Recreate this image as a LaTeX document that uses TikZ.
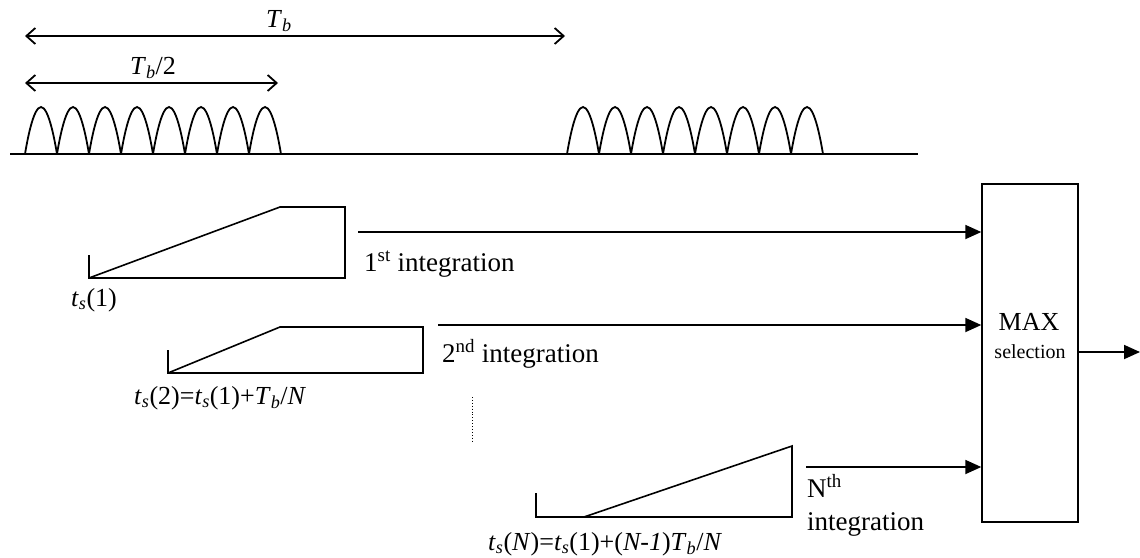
\documentclass[tikz,border=0pt]{standalone}
\usepackage{fontspec}
\setmainfont{Liberation Serif}
\usetikzlibrary{arrows.meta}
\newcommand{\tsub}[1]{\textit{t}\textsubscript{\textit{s}}(#1)}
\newcommand{\Tb}{\textit{T}\textsubscript{\textit{b}}}
\begin{document}
\begin{tikzpicture}[x=1pt,y=-1pt,
  thick line/.style={line width=1.8pt},
  dimarrow/.style={line width=1.8pt,{Straight Barb[length=9pt,width=16pt,line width=1.8pt]}-{Straight Barb[length=9pt,width=16pt,line width=1.8pt]}},
  sigarrow/.style={line width=1.8pt,-{Triangle[length=16pt,width=14pt]}},
  lbl/.style={font=\fontsize{26}{30}\selectfont,inner sep=0pt},
  intl/.style={font=\fontsize{27}{31}\selectfont,inner sep=0pt},
  ramp/.style={line width=1.6pt,line join=miter}]
\useasboundingbox (0,0) rectangle (1140,557);
% dimension arrows
\coordinate (tbL) at (25,36);
\coordinate (tbR) at (565,36);
\draw[dimarrow] (tbL) -- (tbR);
\node[lbl,anchor=base] (tb) at (279,27) {\Tb};
\coordinate (th L) at (25,83);
\coordinate (th R) at (278,83);
\draw[dimarrow] (th L) -- (th R);
\node[lbl,anchor=base] (th) at (153,74) {\Tb/2};
% baseline and humps
\coordinate (b0) at (10,154);
\coordinate (b1) at (918,154);
\draw[thick line] (b0) -- (b1);
\foreach \s in {25,567}{
  \foreach \i in {0,...,7}{
    \draw[thick line] ({\s+32*\i},154) parabola bend ({\s+16+32*\i},107) ({\s+32+32*\i},154);
  }
}
% ramp 1
\draw[ramp] (89,255) -- (89,278) -- (345,278) -- (345,207) -- (280,207) -- (89,278);
\node[lbl,anchor=base west] (r1) at (71,306) {\tsub{1}};
% ramp 2
\draw[ramp] (168,350) -- (168,373) -- (423,373) -- (423,327) -- (280,327) -- (168,373);
\node[lbl,anchor=base west] (r2) at (134,404) {\tsub{2}=\tsub{1}+\Tb/\textit{N}};
% dotted
\draw[line width=0.9pt,dotted] (472,397) -- (472,443);
% ramp N
\draw[ramp] (536,493) -- (536,517) -- (792,517) -- (792,446) -- (584,517);
\node[lbl,anchor=base west] (rN) at (488,550) {\textit{t}\textsubscript{\textit{s}}(\textit{N})=\tsub{1}+(\textit{N-1})\Tb/\textit{N}};
% MAX box
\node[draw,line width=1.4pt,minimum width=96pt,minimum height=338pt,inner sep=0pt] (max) at (1030,353) {};
\node[font=\fontsize{26}{28}\selectfont,inner sep=0pt] (maxt) at (1029,322) {MAX};
\node[font=\fontsize{20}{22}\selectfont,inner sep=0pt] (selt) at (1030,352) {selection};
% signal arrows
\coordinate (a1) at (358,232);
\coordinate (a2) at (438,325);
\coordinate (aN) at (806,467);
\draw[sigarrow] (a1) -- (a1 -| max.west);
\draw[sigarrow] (a2) -- (a2 -| max.west);
\draw[sigarrow] (aN) -- (aN -| max.west);
\coordinate (out) at (1140,352);
\draw[sigarrow] (max.east |- out) -- (out);
% integration labels
\node[intl,anchor=base west] (i1) at (364,271) {1\textsuperscript{st} integration};
\node[intl,anchor=base west] (i2) at (442,362) {2\textsuperscript{nd} integration};
\node[intl,anchor=base west] (iN1) at (807,497) {N\textsuperscript{th}};
\node[intl,anchor=base west] (iN2) at (807,530) {integration};
\end{tikzpicture}
\end{document}
